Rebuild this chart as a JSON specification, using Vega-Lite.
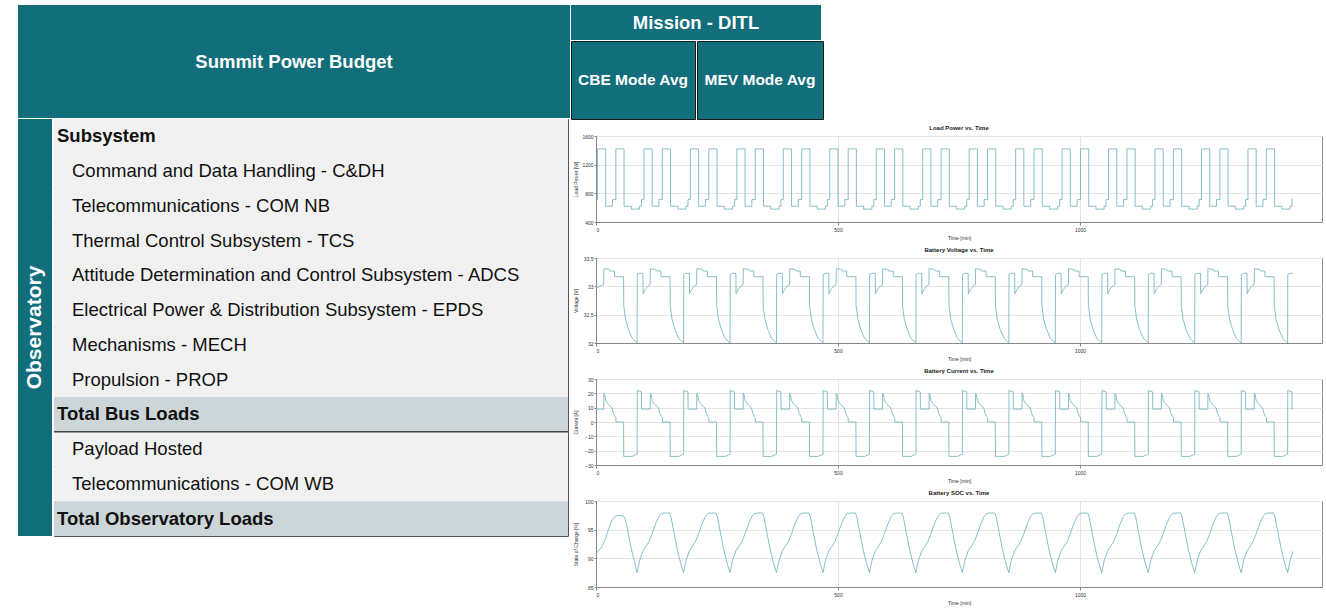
{
"$schema": "https://vega.github.io/schema/vega-lite/v6.json",
"padding": {"left": 18, "top": 5, "right": 0, "bottom": 0},
"background": "white",
"spacing": 0,
"hconcat": [
{"vconcat": [
  {"width": 552, "height": 113, "view": {"fill": "#126e7b", "stroke": null},
   "data": {"values": [{"h": "Summit Power Budget"}]},
   "mark": {"type": "text", "color": "white", "fontSize": 18.5, "fontWeight": "bold", "font": "Liberation Sans"},
   "encoding": {"text": {"field": "h"}}},
  {"hconcat": [
    {"width": 34, "height": 417, "view": {"fill": "#126e7b", "stroke": null},
     "data": {"values": [{"h": "Observatory"}]},
     "mark": {"type": "text", "color": "white", "angle": 270, "fontSize": 21, "fontWeight": "bold", "font": "Liberation Sans"},
     "encoding": {"text": {"field": "h"}}},
    {"width": 514, "height": 417, "view": {"fill": "#f1f1f1", "stroke": "#555555"},
     "data": {"name": "rows"},
     "resolve": {"scale": {"x": "independent"}},
     "layer": [
       {"mark": {"type": "rect"},
        "encoding": {
          "y": {"field": "item", "type": "nominal", "sort": null, "axis": null,
                "scale": {"paddingInner": 0, "paddingOuter": 0, "domain": ["Subsystem","Command and Data Handling - C&DH","Telecommunications - COM NB","Thermal Control Subsystem - TCS","Attitude Determination and Control Subsystem - ADCS","Electrical Power & Distribution Subsystem - EPDS","Mechanisms - MECH","Propulsion - PROP","Total Bus Loads","Payload Hosted","Telecommunications - COM WB","Total Observatory Loads"]}},
          "color": {"field": "kind", "type": "nominal", "legend": null, "scale": {"domain": ["head","item","total"], "range": ["#f1f1f1","#f1f1f1","#ccd5d8"]}}}},
       {"transform": [{"filter": "datum.item == 'Payload Hosted'"}],
        "mark": {"type": "rule", "color": "#444444", "strokeWidth": 1.5},
        "encoding": {"y": {"field": "item", "type": "nominal", "bandPosition": 0}}},
       {"transform": [{"filter": "datum.kind != 'item'"}],
        "mark": {"type": "text", "align": "left", "fontSize": 18.5, "fontWeight": "bold", "color": "#111111", "font": "Liberation Sans"},
        "encoding": {
          "y": {"field": "item", "type": "nominal"},
          "x": {"field": "level", "type": "quantitative", "axis": null, "scale": {"domain": [0, 1], "range": [3, 18]}},
          "text": {"field": "item"}}},
       {"transform": [{"filter": "datum.kind == 'item'"}],
        "mark": {"type": "text", "align": "left", "fontSize": 18.5, "color": "#111111", "font": "Liberation Sans"},
        "encoding": {
          "y": {"field": "item", "type": "nominal"},
          "x": {"field": "level", "type": "quantitative", "axis": null, "scale": {"domain": [0, 1], "range": [3, 18]}},
          "text": {"field": "item"}}}
     ]}
  ], "spacing": 0}
], "spacing": 0},
{"vconcat": [
  {"vconcat": [
    {"width": 250, "height": 35, "view": {"fill": "#126e7b", "stroke": null},
     "data": {"values": [{"h": "Mission - DITL"}]},
     "mark": {"type": "text", "color": "white", "fontSize": 18.5, "fontWeight": "bold", "font": "Liberation Sans"},
     "encoding": {"text": {"field": "h"}}},
    {"hconcat": [
      {"width": 124, "height": 78, "view": {"fill": "#126e7b", "stroke": "#1a1a1a"},
       "data": {"values": [{"h": "CBE Mode Avg"}]},
       "mark": {"type": "text", "color": "white", "fontSize": 15.5, "fontWeight": "bold", "font": "Liberation Sans"},
       "encoding": {"text": {"field": "h"}}},
      {"width": 126, "height": 78, "view": {"fill": "#126e7b", "stroke": "#1a1a1a"},
       "data": {"values": [{"h": "MEV Mode Avg"}]},
       "mark": {"type": "text", "color": "white", "fontSize": 15.5, "fontWeight": "bold", "font": "Liberation Sans"},
       "encoding": {"text": {"field": "h"}}}
    ], "spacing": 0}
  ], "spacing": 0},
  {"hconcat": [
   {"width": 1, "height": 1, "data": {"values": [{"h": "spacer"}]}, "mark": {"type": "rect", "opacity": 0}, "encoding": {}},
   {"vconcat": [
  {"width": 726, "height": 86, "title": "Load Power vs. Time", "view": {"stroke": "#8c8c8c"},
   "data": {"name": "power"},
   "mark": {"type": "line", "interpolate": "step-after", "color": "#6aaebb", "strokeWidth": 0.8, "clip": true},
   "encoding": {
     "x": {"field": "t", "type": "quantitative", "scale": {"domain": [0, 1500], "nice": false}, "axis": {"values": [0, 500, 1000], "format": "d", "title": "Time [min]"}},
     "y": {"field": "v", "type": "quantitative", "scale": {"domain": [400, 1600], "nice": false, "zero": false}, "axis": {"values": [400, 800, 1200, 1600], "format": "d", "title": "Load Power [W]"}}}},
  {"width": 726, "height": 85, "title": "Battery Voltage vs. Time", "view": {"stroke": "#8c8c8c"},
   "data": {"name": "voltage"},
   "mark": {"type": "line", "color": "#6aaebb", "strokeWidth": 0.8, "clip": true},
   "encoding": {
     "x": {"field": "t", "type": "quantitative", "scale": {"domain": [0, 1500], "nice": false}, "axis": {"values": [0, 500, 1000], "format": "d", "title": "Time [min]"}},
     "y": {"field": "v", "type": "quantitative", "scale": {"domain": [32, 33.5], "nice": false, "zero": false}, "axis": {"values": [32, 32.5, 33, 33.5], "format": "~f", "title": "Voltage [V]"}}}},
  {"width": 726, "height": 86, "title": "Battery Current vs. Time", "view": {"stroke": "#8c8c8c"},
   "data": {"name": "current"},
   "mark": {"type": "line", "color": "#6aaebb", "strokeWidth": 0.8, "clip": true},
   "encoding": {
     "x": {"field": "t", "type": "quantitative", "scale": {"domain": [0, 1500], "nice": false}, "axis": {"values": [0, 500, 1000], "format": "d", "title": "Time [min]"}},
     "y": {"field": "v", "type": "quantitative", "scale": {"domain": [-30, 30], "nice": false, "zero": false}, "axis": {"values": [-30, -20, -10, 0, 10, 20, 30], "format": "d", "title": "Current [A]"}}}},
  {"width": 726, "height": 86, "title": "Battery SOC vs. Time", "view": {"stroke": "#8c8c8c"},
   "data": {"name": "soc"},
   "mark": {"type": "line", "color": "#6aaebb", "strokeWidth": 0.8, "clip": true},
   "encoding": {
     "x": {"field": "t", "type": "quantitative", "scale": {"domain": [0, 1500], "nice": false}, "axis": {"values": [0, 500, 1000], "format": "d", "title": "Time [min]"}},
     "y": {"field": "v", "type": "quantitative", "scale": {"domain": [85, 100], "nice": false, "zero": false}, "axis": {"values": [85, 90, 95, 100], "format": "d", "title": "State of Charge [%]"}}}}
   ], "spacing": 5}
  ], "spacing": 0}
], "spacing": 4}
],
"datasets": {
"rows": [
{"item":"Subsystem","kind":"head","level":0},
{"item":"Command and Data Handling - C&DH","kind":"item","level":1},
{"item":"Telecommunications - COM NB","kind":"item","level":1},
{"item":"Thermal Control Subsystem - TCS","kind":"item","level":1},
{"item":"Attitude Determination and Control Subsystem - ADCS","kind":"item","level":1},
{"item":"Electrical Power & Distribution Subsystem - EPDS","kind":"item","level":1},
{"item":"Mechanisms - MECH","kind":"item","level":1},
{"item":"Propulsion - PROP","kind":"item","level":1},
{"item":"Total Bus Loads","kind":"total","level":0},
{"item":"Payload Hosted","kind":"item","level":1},
{"item":"Telecommunications - COM WB","kind":"item","level":1},
{"item":"Total Observatory Loads","kind":"total","level":0}
],
"power": [
{"t":0,"v":713},
{"t":3,"v":1420},{"t":20,"v":620},{"t":34,"v":713},{"t":41,"v":1420},{"t":58,"v":620},{"t":73,"v":580},{"t":90,"v":620},{"t":94,"v":713},
{"t":99,"v":1420},{"t":116,"v":620},{"t":130,"v":713},{"t":137,"v":1420},{"t":154,"v":620},{"t":169,"v":580},{"t":186,"v":620},{"t":190,"v":713},
{"t":195,"v":1420},{"t":212,"v":620},{"t":226,"v":713},{"t":233,"v":1420},{"t":250,"v":620},{"t":265,"v":580},{"t":282,"v":620},{"t":286,"v":713},
{"t":291,"v":1420},{"t":308,"v":620},{"t":322,"v":713},{"t":329,"v":1420},{"t":346,"v":620},{"t":361,"v":580},{"t":378,"v":620},{"t":382,"v":713},
{"t":387,"v":1420},{"t":404,"v":620},{"t":418,"v":713},{"t":425,"v":1420},{"t":442,"v":620},{"t":457,"v":580},{"t":474,"v":620},{"t":478,"v":713},
{"t":483,"v":1420},{"t":500,"v":620},{"t":514,"v":713},{"t":521,"v":1420},{"t":538,"v":620},{"t":553,"v":580},{"t":570,"v":620},{"t":574,"v":713},
{"t":579,"v":1420},{"t":596,"v":620},{"t":610,"v":713},{"t":617,"v":1420},{"t":634,"v":620},{"t":649,"v":580},{"t":666,"v":620},{"t":670,"v":713},
{"t":675,"v":1420},{"t":692,"v":620},{"t":706,"v":713},{"t":713,"v":1420},{"t":730,"v":620},{"t":745,"v":580},{"t":762,"v":620},{"t":766,"v":713},
{"t":771,"v":1420},{"t":788,"v":620},{"t":802,"v":713},{"t":809,"v":1420},{"t":826,"v":620},{"t":841,"v":580},{"t":858,"v":620},{"t":862,"v":713},
{"t":867,"v":1420},{"t":884,"v":620},{"t":898,"v":713},{"t":905,"v":1420},{"t":922,"v":620},{"t":937,"v":580},{"t":954,"v":620},{"t":958,"v":713},
{"t":963,"v":1420},{"t":980,"v":620},{"t":994,"v":713},{"t":1001,"v":1420},{"t":1018,"v":620},{"t":1033,"v":580},{"t":1050,"v":620},{"t":1054,"v":713},
{"t":1059,"v":1420},{"t":1076,"v":620},{"t":1090,"v":713},{"t":1097,"v":1420},{"t":1114,"v":620},{"t":1129,"v":580},{"t":1146,"v":620},{"t":1150,"v":713},
{"t":1155,"v":1420},{"t":1172,"v":620},{"t":1186,"v":713},{"t":1193,"v":1420},{"t":1210,"v":620},{"t":1225,"v":580},{"t":1242,"v":620},{"t":1246,"v":713},
{"t":1251,"v":1420},{"t":1268,"v":620},{"t":1282,"v":713},{"t":1289,"v":1420},{"t":1306,"v":620},{"t":1321,"v":580},{"t":1338,"v":620},{"t":1342,"v":713},
{"t":1347,"v":1420},{"t":1364,"v":620},{"t":1378,"v":713},{"t":1385,"v":1420},{"t":1402,"v":620},{"t":1417,"v":580},{"t":1434,"v":620},{"t":1438,"v":713},
{"t":1440,"v":713}
],
"voltage": [
{"t":0,"v":32.97},{"t":16,"v":33.03},{"t":16.3,"v":33.31},{"t":27,"v":33.3},{"t":29,"v":33.27},{"t":38,"v":33.27},{"t":38.3,"v":33.17},{"t":57,"v":33.17},{"t":57.3,"v":32.66},{"t":61,"v":32.42},{"t":67,"v":32.24},{"t":75,"v":32.08},
{"t":85,"v":32.0},{"t":85.3,"v":33.21},{"t":90,"v":33.23},{"t":97,"v":33.23},{"t":97.3,"v":32.87},{"t":102,"v":32.95},{"t":108,"v":33.01},{"t":112,"v":33.03},{"t":112.3,"v":33.31},{"t":123,"v":33.3},{"t":125,"v":33.27},{"t":134,"v":33.27},{"t":134.3,"v":33.17},{"t":153,"v":33.17},{"t":153.3,"v":32.66},{"t":157,"v":32.42},{"t":163,"v":32.24},{"t":171,"v":32.08},
{"t":181,"v":32.0},{"t":181.3,"v":33.21},{"t":186,"v":33.23},{"t":193,"v":33.23},{"t":193.3,"v":32.87},{"t":198,"v":32.95},{"t":204,"v":33.01},{"t":208,"v":33.03},{"t":208.3,"v":33.31},{"t":219,"v":33.3},{"t":221,"v":33.27},{"t":230,"v":33.27},{"t":230.3,"v":33.17},{"t":249,"v":33.17},{"t":249.3,"v":32.66},{"t":253,"v":32.42},{"t":259,"v":32.24},{"t":267,"v":32.08},
{"t":277,"v":32.0},{"t":277.3,"v":33.21},{"t":282,"v":33.23},{"t":289,"v":33.23},{"t":289.3,"v":32.87},{"t":294,"v":32.95},{"t":300,"v":33.01},{"t":304,"v":33.03},{"t":304.3,"v":33.31},{"t":315,"v":33.3},{"t":317,"v":33.27},{"t":326,"v":33.27},{"t":326.3,"v":33.17},{"t":345,"v":33.17},{"t":345.3,"v":32.66},{"t":349,"v":32.42},{"t":355,"v":32.24},{"t":363,"v":32.08},
{"t":373,"v":32.0},{"t":373.3,"v":33.21},{"t":378,"v":33.23},{"t":385,"v":33.23},{"t":385.3,"v":32.87},{"t":390,"v":32.95},{"t":396,"v":33.01},{"t":400,"v":33.03},{"t":400.3,"v":33.31},{"t":411,"v":33.3},{"t":413,"v":33.27},{"t":422,"v":33.27},{"t":422.3,"v":33.17},{"t":441,"v":33.17},{"t":441.3,"v":32.66},{"t":445,"v":32.42},{"t":451,"v":32.24},{"t":459,"v":32.08},
{"t":469,"v":32.0},{"t":469.3,"v":33.21},{"t":474,"v":33.23},{"t":481,"v":33.23},{"t":481.3,"v":32.87},{"t":486,"v":32.95},{"t":492,"v":33.01},{"t":496,"v":33.03},{"t":496.3,"v":33.31},{"t":507,"v":33.3},{"t":509,"v":33.27},{"t":518,"v":33.27},{"t":518.3,"v":33.17},{"t":537,"v":33.17},{"t":537.3,"v":32.66},{"t":541,"v":32.42},{"t":547,"v":32.24},{"t":555,"v":32.08},
{"t":565,"v":32.0},{"t":565.3,"v":33.21},{"t":570,"v":33.23},{"t":577,"v":33.23},{"t":577.3,"v":32.87},{"t":582,"v":32.95},{"t":588,"v":33.01},{"t":592,"v":33.03},{"t":592.3,"v":33.31},{"t":603,"v":33.3},{"t":605,"v":33.27},{"t":614,"v":33.27},{"t":614.3,"v":33.17},{"t":633,"v":33.17},{"t":633.3,"v":32.66},{"t":637,"v":32.42},{"t":643,"v":32.24},{"t":651,"v":32.08},
{"t":661,"v":32.0},{"t":661.3,"v":33.21},{"t":666,"v":33.23},{"t":673,"v":33.23},{"t":673.3,"v":32.87},{"t":678,"v":32.95},{"t":684,"v":33.01},{"t":688,"v":33.03},{"t":688.3,"v":33.31},{"t":699,"v":33.3},{"t":701,"v":33.27},{"t":710,"v":33.27},{"t":710.3,"v":33.17},{"t":729,"v":33.17},{"t":729.3,"v":32.66},{"t":733,"v":32.42},{"t":739,"v":32.24},{"t":747,"v":32.08},
{"t":757,"v":32.0},{"t":757.3,"v":33.21},{"t":762,"v":33.23},{"t":769,"v":33.23},{"t":769.3,"v":32.87},{"t":774,"v":32.95},{"t":780,"v":33.01},{"t":784,"v":33.03},{"t":784.3,"v":33.31},{"t":795,"v":33.3},{"t":797,"v":33.27},{"t":806,"v":33.27},{"t":806.3,"v":33.17},{"t":825,"v":33.17},{"t":825.3,"v":32.66},{"t":829,"v":32.42},{"t":835,"v":32.24},{"t":843,"v":32.08},
{"t":853,"v":32.0},{"t":853.3,"v":33.21},{"t":858,"v":33.23},{"t":865,"v":33.23},{"t":865.3,"v":32.87},{"t":870,"v":32.95},{"t":876,"v":33.01},{"t":880,"v":33.03},{"t":880.3,"v":33.31},{"t":891,"v":33.3},{"t":893,"v":33.27},{"t":902,"v":33.27},{"t":902.3,"v":33.17},{"t":921,"v":33.17},{"t":921.3,"v":32.66},{"t":925,"v":32.42},{"t":931,"v":32.24},{"t":939,"v":32.08},
{"t":949,"v":32.0},{"t":949.3,"v":33.21},{"t":954,"v":33.23},{"t":961,"v":33.23},{"t":961.3,"v":32.87},{"t":966,"v":32.95},{"t":972,"v":33.01},{"t":976,"v":33.03},{"t":976.3,"v":33.31},{"t":987,"v":33.3},{"t":989,"v":33.27},{"t":998,"v":33.27},{"t":998.3,"v":33.17},{"t":1017,"v":33.17},{"t":1017.3,"v":32.66},{"t":1021,"v":32.42},{"t":1027,"v":32.24},{"t":1035,"v":32.08},
{"t":1045,"v":32.0},{"t":1045.3,"v":33.21},{"t":1050,"v":33.23},{"t":1057,"v":33.23},{"t":1057.3,"v":32.87},{"t":1062,"v":32.95},{"t":1068,"v":33.01},{"t":1072,"v":33.03},{"t":1072.3,"v":33.31},{"t":1083,"v":33.3},{"t":1085,"v":33.27},{"t":1094,"v":33.27},{"t":1094.3,"v":33.17},{"t":1113,"v":33.17},{"t":1113.3,"v":32.66},{"t":1117,"v":32.42},{"t":1123,"v":32.24},{"t":1131,"v":32.08},
{"t":1141,"v":32.0},{"t":1141.3,"v":33.21},{"t":1146,"v":33.23},{"t":1153,"v":33.23},{"t":1153.3,"v":32.87},{"t":1158,"v":32.95},{"t":1164,"v":33.01},{"t":1168,"v":33.03},{"t":1168.3,"v":33.31},{"t":1179,"v":33.3},{"t":1181,"v":33.27},{"t":1190,"v":33.27},{"t":1190.3,"v":33.17},{"t":1209,"v":33.17},{"t":1209.3,"v":32.66},{"t":1213,"v":32.42},{"t":1219,"v":32.24},{"t":1227,"v":32.08},
{"t":1237,"v":32.0},{"t":1237.3,"v":33.21},{"t":1242,"v":33.23},{"t":1249,"v":33.23},{"t":1249.3,"v":32.87},{"t":1254,"v":32.95},{"t":1260,"v":33.01},{"t":1264,"v":33.03},{"t":1264.3,"v":33.31},{"t":1275,"v":33.3},{"t":1277,"v":33.27},{"t":1286,"v":33.27},{"t":1286.3,"v":33.17},{"t":1305,"v":33.17},{"t":1305.3,"v":32.66},{"t":1309,"v":32.42},{"t":1315,"v":32.24},{"t":1323,"v":32.08},
{"t":1333,"v":32.0},{"t":1333.3,"v":33.21},{"t":1338,"v":33.23},{"t":1345,"v":33.23},{"t":1345.3,"v":32.87},{"t":1350,"v":32.95},{"t":1356,"v":33.01},{"t":1360,"v":33.03},{"t":1360.3,"v":33.31},{"t":1371,"v":33.3},{"t":1373,"v":33.27},{"t":1382,"v":33.27},{"t":1382.3,"v":33.17},{"t":1401,"v":33.17},{"t":1401.3,"v":32.66},{"t":1405,"v":32.42},{"t":1411,"v":32.24},{"t":1419,"v":32.08},
{"t":1429,"v":32.0},{"t":1429.3,"v":33.21},{"t":1434,"v":33.23},{"t":1440,"v":33.23}
],
"current": [
{"t":0,"v":9},{"t":16,"v":9},{"t":16.3,"v":20},{"t":18,"v":19},{"t":20,"v":15},{"t":24,"v":13},{"t":29,"v":11},{"t":33,"v":10},{"t":36,"v":6},{"t":39,"v":4},{"t":41,"v":3},{"t":41.3,"v":0},{"t":57,"v":0},{"t":57.3,"v":-24},{"t":75,"v":-24},{"t":81,"v":-23},
{"t":85,"v":-22.5},{"t":85.3,"v":22},{"t":94,"v":21},{"t":94.3,"v":9},{"t":112,"v":9},{"t":112.3,"v":20},{"t":114,"v":19},{"t":116,"v":15},{"t":120,"v":13},{"t":125,"v":11},{"t":129,"v":10},{"t":132,"v":6},{"t":135,"v":4},{"t":137,"v":3},{"t":137.3,"v":0},{"t":153,"v":0},{"t":153.3,"v":-24},{"t":171,"v":-24},{"t":177,"v":-23},
{"t":181,"v":-22.5},{"t":181.3,"v":22},{"t":190,"v":21},{"t":190.3,"v":9},{"t":208,"v":9},{"t":208.3,"v":20},{"t":210,"v":19},{"t":212,"v":15},{"t":216,"v":13},{"t":221,"v":11},{"t":225,"v":10},{"t":228,"v":6},{"t":231,"v":4},{"t":233,"v":3},{"t":233.3,"v":0},{"t":249,"v":0},{"t":249.3,"v":-24},{"t":267,"v":-24},{"t":273,"v":-23},
{"t":277,"v":-22.5},{"t":277.3,"v":22},{"t":286,"v":21},{"t":286.3,"v":9},{"t":304,"v":9},{"t":304.3,"v":20},{"t":306,"v":19},{"t":308,"v":15},{"t":312,"v":13},{"t":317,"v":11},{"t":321,"v":10},{"t":324,"v":6},{"t":327,"v":4},{"t":329,"v":3},{"t":329.3,"v":0},{"t":345,"v":0},{"t":345.3,"v":-24},{"t":363,"v":-24},{"t":369,"v":-23},
{"t":373,"v":-22.5},{"t":373.3,"v":22},{"t":382,"v":21},{"t":382.3,"v":9},{"t":400,"v":9},{"t":400.3,"v":20},{"t":402,"v":19},{"t":404,"v":15},{"t":408,"v":13},{"t":413,"v":11},{"t":417,"v":10},{"t":420,"v":6},{"t":423,"v":4},{"t":425,"v":3},{"t":425.3,"v":0},{"t":441,"v":0},{"t":441.3,"v":-24},{"t":459,"v":-24},{"t":465,"v":-23},
{"t":469,"v":-22.5},{"t":469.3,"v":22},{"t":478,"v":21},{"t":478.3,"v":9},{"t":496,"v":9},{"t":496.3,"v":20},{"t":498,"v":19},{"t":500,"v":15},{"t":504,"v":13},{"t":509,"v":11},{"t":513,"v":10},{"t":516,"v":6},{"t":519,"v":4},{"t":521,"v":3},{"t":521.3,"v":0},{"t":537,"v":0},{"t":537.3,"v":-24},{"t":555,"v":-24},{"t":561,"v":-23},
{"t":565,"v":-22.5},{"t":565.3,"v":22},{"t":574,"v":21},{"t":574.3,"v":9},{"t":592,"v":9},{"t":592.3,"v":20},{"t":594,"v":19},{"t":596,"v":15},{"t":600,"v":13},{"t":605,"v":11},{"t":609,"v":10},{"t":612,"v":6},{"t":615,"v":4},{"t":617,"v":3},{"t":617.3,"v":0},{"t":633,"v":0},{"t":633.3,"v":-24},{"t":651,"v":-24},{"t":657,"v":-23},
{"t":661,"v":-22.5},{"t":661.3,"v":22},{"t":670,"v":21},{"t":670.3,"v":9},{"t":688,"v":9},{"t":688.3,"v":20},{"t":690,"v":19},{"t":692,"v":15},{"t":696,"v":13},{"t":701,"v":11},{"t":705,"v":10},{"t":708,"v":6},{"t":711,"v":4},{"t":713,"v":3},{"t":713.3,"v":0},{"t":729,"v":0},{"t":729.3,"v":-24},{"t":747,"v":-24},{"t":753,"v":-23},
{"t":757,"v":-22.5},{"t":757.3,"v":22},{"t":766,"v":21},{"t":766.3,"v":9},{"t":784,"v":9},{"t":784.3,"v":20},{"t":786,"v":19},{"t":788,"v":15},{"t":792,"v":13},{"t":797,"v":11},{"t":801,"v":10},{"t":804,"v":6},{"t":807,"v":4},{"t":809,"v":3},{"t":809.3,"v":0},{"t":825,"v":0},{"t":825.3,"v":-24},{"t":843,"v":-24},{"t":849,"v":-23},
{"t":853,"v":-22.5},{"t":853.3,"v":22},{"t":862,"v":21},{"t":862.3,"v":9},{"t":880,"v":9},{"t":880.3,"v":20},{"t":882,"v":19},{"t":884,"v":15},{"t":888,"v":13},{"t":893,"v":11},{"t":897,"v":10},{"t":900,"v":6},{"t":903,"v":4},{"t":905,"v":3},{"t":905.3,"v":0},{"t":921,"v":0},{"t":921.3,"v":-24},{"t":939,"v":-24},{"t":945,"v":-23},
{"t":949,"v":-22.5},{"t":949.3,"v":22},{"t":958,"v":21},{"t":958.3,"v":9},{"t":976,"v":9},{"t":976.3,"v":20},{"t":978,"v":19},{"t":980,"v":15},{"t":984,"v":13},{"t":989,"v":11},{"t":993,"v":10},{"t":996,"v":6},{"t":999,"v":4},{"t":1001,"v":3},{"t":1001.3,"v":0},{"t":1017,"v":0},{"t":1017.3,"v":-24},{"t":1035,"v":-24},{"t":1041,"v":-23},
{"t":1045,"v":-22.5},{"t":1045.3,"v":22},{"t":1054,"v":21},{"t":1054.3,"v":9},{"t":1072,"v":9},{"t":1072.3,"v":20},{"t":1074,"v":19},{"t":1076,"v":15},{"t":1080,"v":13},{"t":1085,"v":11},{"t":1089,"v":10},{"t":1092,"v":6},{"t":1095,"v":4},{"t":1097,"v":3},{"t":1097.3,"v":0},{"t":1113,"v":0},{"t":1113.3,"v":-24},{"t":1131,"v":-24},{"t":1137,"v":-23},
{"t":1141,"v":-22.5},{"t":1141.3,"v":22},{"t":1150,"v":21},{"t":1150.3,"v":9},{"t":1168,"v":9},{"t":1168.3,"v":20},{"t":1170,"v":19},{"t":1172,"v":15},{"t":1176,"v":13},{"t":1181,"v":11},{"t":1185,"v":10},{"t":1188,"v":6},{"t":1191,"v":4},{"t":1193,"v":3},{"t":1193.3,"v":0},{"t":1209,"v":0},{"t":1209.3,"v":-24},{"t":1227,"v":-24},{"t":1233,"v":-23},
{"t":1237,"v":-22.5},{"t":1237.3,"v":22},{"t":1246,"v":21},{"t":1246.3,"v":9},{"t":1264,"v":9},{"t":1264.3,"v":20},{"t":1266,"v":19},{"t":1268,"v":15},{"t":1272,"v":13},{"t":1277,"v":11},{"t":1281,"v":10},{"t":1284,"v":6},{"t":1287,"v":4},{"t":1289,"v":3},{"t":1289.3,"v":0},{"t":1305,"v":0},{"t":1305.3,"v":-24},{"t":1323,"v":-24},{"t":1329,"v":-23},
{"t":1333,"v":-22.5},{"t":1333.3,"v":22},{"t":1342,"v":21},{"t":1342.3,"v":9},{"t":1360,"v":9},{"t":1360.3,"v":20},{"t":1362,"v":19},{"t":1364,"v":15},{"t":1368,"v":13},{"t":1373,"v":11},{"t":1377,"v":10},{"t":1380,"v":6},{"t":1383,"v":4},{"t":1385,"v":3},{"t":1385.3,"v":0},{"t":1401,"v":0},{"t":1401.3,"v":-24},{"t":1419,"v":-24},{"t":1425,"v":-23},
{"t":1429,"v":-22.5},{"t":1429.3,"v":22},{"t":1438,"v":21},{"t":1438.3,"v":9},{"t":1440,"v":9}
],
"soc": [
{"t":0,"v":90.8},{"t":6,"v":91.4},{"t":12,"v":92.0},{"t":18,"v":93.1},{"t":25,"v":94.8},{"t":32,"v":96.5},{"t":39,"v":97.3},{"t":46,"v":97.5},{"t":56,"v":97.4},{"t":60,"v":97.0},{"t":66,"v":94.6},{"t":73,"v":91.6},{"t":80,"v":89.3},
{"t":85,"v":87.5},{"t":90,"v":89.6},{"t":97,"v":91.3},{"t":105,"v":92.3},{"t":110,"v":93.0},{"t":116,"v":94.3},{"t":123,"v":96.0},{"t":130,"v":97.3},{"t":135,"v":97.8},{"t":140,"v":97.9},{"t":152,"v":97.9},{"t":155,"v":97.2},{"t":161,"v":94.5},{"t":168,"v":91.5},{"t":175,"v":89.1},
{"t":181,"v":87.5},{"t":186,"v":89.6},{"t":193,"v":91.3},{"t":201,"v":92.3},{"t":206,"v":93.0},{"t":212,"v":94.3},{"t":219,"v":96.0},{"t":226,"v":97.3},{"t":231,"v":97.8},{"t":236,"v":97.9},{"t":248,"v":97.9},{"t":251,"v":97.2},{"t":257,"v":94.5},{"t":264,"v":91.5},{"t":271,"v":89.1},
{"t":277,"v":87.5},{"t":282,"v":89.6},{"t":289,"v":91.3},{"t":297,"v":92.3},{"t":302,"v":93.0},{"t":308,"v":94.3},{"t":315,"v":96.0},{"t":322,"v":97.3},{"t":327,"v":97.8},{"t":332,"v":97.9},{"t":344,"v":97.9},{"t":347,"v":97.2},{"t":353,"v":94.5},{"t":360,"v":91.5},{"t":367,"v":89.1},
{"t":373,"v":87.5},{"t":378,"v":89.6},{"t":385,"v":91.3},{"t":393,"v":92.3},{"t":398,"v":93.0},{"t":404,"v":94.3},{"t":411,"v":96.0},{"t":418,"v":97.3},{"t":423,"v":97.8},{"t":428,"v":97.9},{"t":440,"v":97.9},{"t":443,"v":97.2},{"t":449,"v":94.5},{"t":456,"v":91.5},{"t":463,"v":89.1},
{"t":469,"v":87.5},{"t":474,"v":89.6},{"t":481,"v":91.3},{"t":489,"v":92.3},{"t":494,"v":93.0},{"t":500,"v":94.3},{"t":507,"v":96.0},{"t":514,"v":97.3},{"t":519,"v":97.8},{"t":524,"v":97.9},{"t":536,"v":97.9},{"t":539,"v":97.2},{"t":545,"v":94.5},{"t":552,"v":91.5},{"t":559,"v":89.1},
{"t":565,"v":87.5},{"t":570,"v":89.6},{"t":577,"v":91.3},{"t":585,"v":92.3},{"t":590,"v":93.0},{"t":596,"v":94.3},{"t":603,"v":96.0},{"t":610,"v":97.3},{"t":615,"v":97.8},{"t":620,"v":97.9},{"t":632,"v":97.9},{"t":635,"v":97.2},{"t":641,"v":94.5},{"t":648,"v":91.5},{"t":655,"v":89.1},
{"t":661,"v":87.5},{"t":666,"v":89.6},{"t":673,"v":91.3},{"t":681,"v":92.3},{"t":686,"v":93.0},{"t":692,"v":94.3},{"t":699,"v":96.0},{"t":706,"v":97.3},{"t":711,"v":97.8},{"t":716,"v":97.9},{"t":728,"v":97.9},{"t":731,"v":97.2},{"t":737,"v":94.5},{"t":744,"v":91.5},{"t":751,"v":89.1},
{"t":757,"v":87.5},{"t":762,"v":89.6},{"t":769,"v":91.3},{"t":777,"v":92.3},{"t":782,"v":93.0},{"t":788,"v":94.3},{"t":795,"v":96.0},{"t":802,"v":97.3},{"t":807,"v":97.8},{"t":812,"v":97.9},{"t":824,"v":97.9},{"t":827,"v":97.2},{"t":833,"v":94.5},{"t":840,"v":91.5},{"t":847,"v":89.1},
{"t":853,"v":87.5},{"t":858,"v":89.6},{"t":865,"v":91.3},{"t":873,"v":92.3},{"t":878,"v":93.0},{"t":884,"v":94.3},{"t":891,"v":96.0},{"t":898,"v":97.3},{"t":903,"v":97.8},{"t":908,"v":97.9},{"t":920,"v":97.9},{"t":923,"v":97.2},{"t":929,"v":94.5},{"t":936,"v":91.5},{"t":943,"v":89.1},
{"t":949,"v":87.5},{"t":954,"v":89.6},{"t":961,"v":91.3},{"t":969,"v":92.3},{"t":974,"v":93.0},{"t":980,"v":94.3},{"t":987,"v":96.0},{"t":994,"v":97.3},{"t":999,"v":97.8},{"t":1004,"v":97.9},{"t":1016,"v":97.9},{"t":1019,"v":97.2},{"t":1025,"v":94.5},{"t":1032,"v":91.5},{"t":1039,"v":89.1},
{"t":1045,"v":87.5},{"t":1050,"v":89.6},{"t":1057,"v":91.3},{"t":1065,"v":92.3},{"t":1070,"v":93.0},{"t":1076,"v":94.3},{"t":1083,"v":96.0},{"t":1090,"v":97.3},{"t":1095,"v":97.8},{"t":1100,"v":97.9},{"t":1112,"v":97.9},{"t":1115,"v":97.2},{"t":1121,"v":94.5},{"t":1128,"v":91.5},{"t":1135,"v":89.1},
{"t":1141,"v":87.5},{"t":1146,"v":89.6},{"t":1153,"v":91.3},{"t":1161,"v":92.3},{"t":1166,"v":93.0},{"t":1172,"v":94.3},{"t":1179,"v":96.0},{"t":1186,"v":97.3},{"t":1191,"v":97.8},{"t":1196,"v":97.9},{"t":1208,"v":97.9},{"t":1211,"v":97.2},{"t":1217,"v":94.5},{"t":1224,"v":91.5},{"t":1231,"v":89.1},
{"t":1237,"v":87.5},{"t":1242,"v":89.6},{"t":1249,"v":91.3},{"t":1257,"v":92.3},{"t":1262,"v":93.0},{"t":1268,"v":94.3},{"t":1275,"v":96.0},{"t":1282,"v":97.3},{"t":1287,"v":97.8},{"t":1292,"v":97.9},{"t":1304,"v":97.9},{"t":1307,"v":97.2},{"t":1313,"v":94.5},{"t":1320,"v":91.5},{"t":1327,"v":89.1},
{"t":1333,"v":87.5},{"t":1338,"v":89.6},{"t":1345,"v":91.3},{"t":1353,"v":92.3},{"t":1358,"v":93.0},{"t":1364,"v":94.3},{"t":1371,"v":96.0},{"t":1378,"v":97.3},{"t":1383,"v":97.8},{"t":1388,"v":97.9},{"t":1400,"v":97.9},{"t":1403,"v":97.2},{"t":1409,"v":94.5},{"t":1416,"v":91.5},{"t":1423,"v":89.1},
{"t":1429,"v":87.5},{"t":1434,"v":89.6},{"t":1440,"v":91.2}
]
},
"config": {
  "view": {"stroke": null},
  "font": "Liberation Sans",
  "axis": {"labelFontSize": 5, "titleFontSize": 5, "titleFontWeight": "normal", "labelColor": "#333333", "titleColor": "#333333", "domainColor": "#888888", "tickColor": "#888888", "gridColor": "#e4e4e4", "labelFont": "Liberation Sans", "titleFont": "Liberation Sans"},
  "axisX": {"tickSize": 3, "labelPadding": 2, "titlePadding": 3},
  "axisY": {"tickSize": 2, "labelPadding": 1, "minExtent": 16, "maxExtent": 16, "titlePadding": 2},
  "title": {"fontSize": 6, "fontWeight": "bold", "offset": 3, "color": "#222222", "font": "Liberation Sans"}
}
}
